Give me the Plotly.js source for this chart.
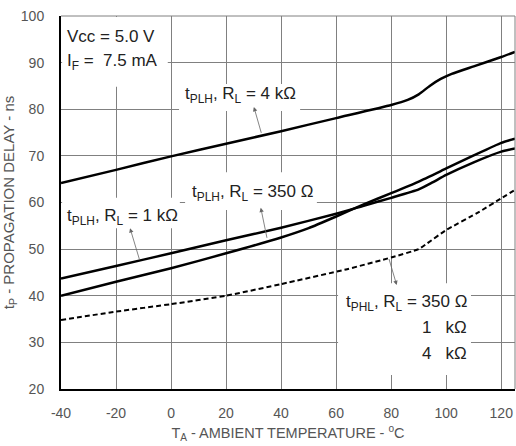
<!DOCTYPE html>
<html>
<head>
<meta charset="utf-8">
<script src="https://cdn.plot.ly/plotly-3.0.1.min.js"></script>
<style>html,body{margin:0;padding:0;background:#fff;}#chart{width:516px;height:446px;}</style>
</head>
<body>
<div id="chart"></div>
<script>
// tPLH, RL = 4 kOhm
var xPLH4k = [-40,-20,0,20,40,60,80,86,90,94,98,102,110,120,125];
var yPLH4k = [64.2,67.0,69.9,72.6,75.3,78.1,80.9,82.0,83.2,85.0,86.5,87.6,89.2,91.2,92.3];
// tPLH, RL = 1 kOhm
var xPLH1k = [-40,-20,0,20,40,60,70,80,90,95,100,110,120,125];
var yPLH1k = [43.7,46.4,49.1,51.9,54.6,57.6,59.3,61.0,62.8,64.3,65.9,68.6,70.9,71.6];
// tPLH, RL = 350 Ohm
var xPLH350 = [-40,-20,0,20,40,50,60,70,80,90,100,110,120,125];
var yPLH350 = [40.0,43.0,45.9,49.1,52.5,54.5,57.0,59.6,62.0,64.5,67.3,70.1,72.8,73.7];
// tPHL, RL = 350 Ohm / 1 kOhm / 4 kOhm
var xPHL = [-40,-20,0,20,40,64,80,90,93,100,112,120,125];
var yPHL = [34.8,36.6,38.2,40.0,42.5,45.7,48.2,50.0,51.2,54.1,58.0,60.9,62.7];

var xTicks = [-40,-20,0,20,40,60,80,100,120];
var yTicks = [20,30,40,50,60,70,80,90,100];

var FONT = "'Liberation Sans', Arial, sans-serif";
var solid = {color:'#000', width:2.5, shape:'spline', smoothing:0.5};

var traces = [
  {x:xPLH4k, y:yPLH4k, mode:'lines', line:solid, hoverinfo:'skip'},
  {x:xPLH1k, y:yPLH1k, mode:'lines', line:solid, hoverinfo:'skip'},
  {x:xPLH350, y:yPLH350, mode:'lines', line:solid, hoverinfo:'skip'},
  {x:xPHL, y:yPHL, mode:'lines', line:{color:'#000', width:2, dash:'5px,3px', shape:'spline', smoothing:0.4}, hoverinfo:'skip'}
];

function box(x0,x1,y0,y1){
  return {type:'rect', xref:'x', yref:'y', x0:x0, x1:x1, y0:y0, y1:y1,
          fillcolor:'#fff', line:{width:0}, layer:'between'};
}
function label(text, x, y, xanchor){
  return {text:text, x:x, y:y, xref:'x', yref:'y', showarrow:false,
          xanchor:xanchor||'left', yanchor:'middle',
          font:{family:FONT, size:17, color:'#222'}};
}
function arrow(hx, hy, tx, ty){
  return {text:' ', x:hx, y:hy, ax:tx, ay:ty, xref:'x', yref:'y', axref:'x', ayref:'y',
          showarrow:true, arrowhead:2, arrowsize:1.1, arrowwidth:0.8, arrowcolor:'#666', standoff:0,
          font:{size:1}};
}

var layout = {
  width:516, height:446,
  margin:{l:61, r:1, t:16, b:57},
  paper_bgcolor:'#fff', plot_bgcolor:'#fff',
  showlegend:false,
  font:{family:FONT, color:'#555'},
  xaxis:{
    range:[-40,125], tickvals:xTicks, ticktext:xTicks.map(String),
    showgrid:true, gridcolor:'#808080', gridwidth:1,
    zeroline:false, showline:true, linecolor:'#000', linewidth:2,
    ticks:'', ticklabelstandoff:10,
    tickfont:{family:FONT, size:14, color:'#555'},
    title:{text:'T<sub>A</sub> - AMBIENT TEMPERATURE - <sup>o</sup>C', font:{family:FONT, size:14.5, color:'#555'}, standoff:8}
  },
  yaxis:{
    range:[20,100], tickvals:yTicks, ticktext:yTicks.map(String),
    showgrid:true, gridcolor:'#808080', gridwidth:1,
    zeroline:false, showline:true, linecolor:'#000', linewidth:2,
    ticks:'', ticklabelstandoff:12,
    tickfont:{family:FONT, size:14, color:'#555'},
    title:{text:'t<sub>P</sub> - PROPAGATION DELAY - ns', font:{family:FONT, size:15, color:'#555'}, standoff:5}
  },
  shapes:[
    {type:'line', xref:'paper', yref:'paper', x0:0, x1:1, y0:1, y1:1, line:{color:'#808080', width:1}},
    {type:'line', xref:'paper', yref:'paper', x0:1, x1:1, y0:0, y1:1, line:{color:'#808080', width:1}},
    box(-39.6, -1.2, 84.8, 99.8),
    box(2.9, 46.9, 79.6, 85.4),
    box(-39.6, 3.2, 54.5, 61.0),
    box(5.1, 53.0, 58.4, 66.5),
    box(60.7, 109.0, 23.0, 42.7)
  ],
  annotations:[
    label('Vcc = 5.0 V', -38.4, 95.5),
    label('I<sub>F</sub> =  7.5 mA', -38.4, 90.1),
    label('t<sub>PLH</sub>, R<sub>L</sub> = 4 kΩ', 4.3, 83.1),
    label('t<sub>PLH</sub>, R<sub>L</sub> = 1 kΩ', -38.4, 56.9),
    label('t<sub>PLH</sub>, R<sub>L</sub> = 350 Ω', 6.9, 62.0),
    label('t<sub>PHL</sub>, R<sub>L</sub> = 350 Ω', 108.3, 38.4, 'right'),
    label('1\u00a0\u00a0\u00a0kΩ', 108.3, 33.2, 'right'),
    label('4\u00a0\u00a0\u00a0kΩ', 108.3, 27.7, 'right'),
    arrow(30.1, 80.5, 33.0, 74.5),
    arrow(-14.9, 54.5, -11.3, 47.4),
    arrow(32.6, 58.9, 35.0, 52.0),
    arrow(82.0, 42.3, 79.0, 48.3)
  ]
};

Plotly.newPlot('chart', traces, layout, {displayModeBar:false, staticPlot:true});
</script>
</body>
</html>
